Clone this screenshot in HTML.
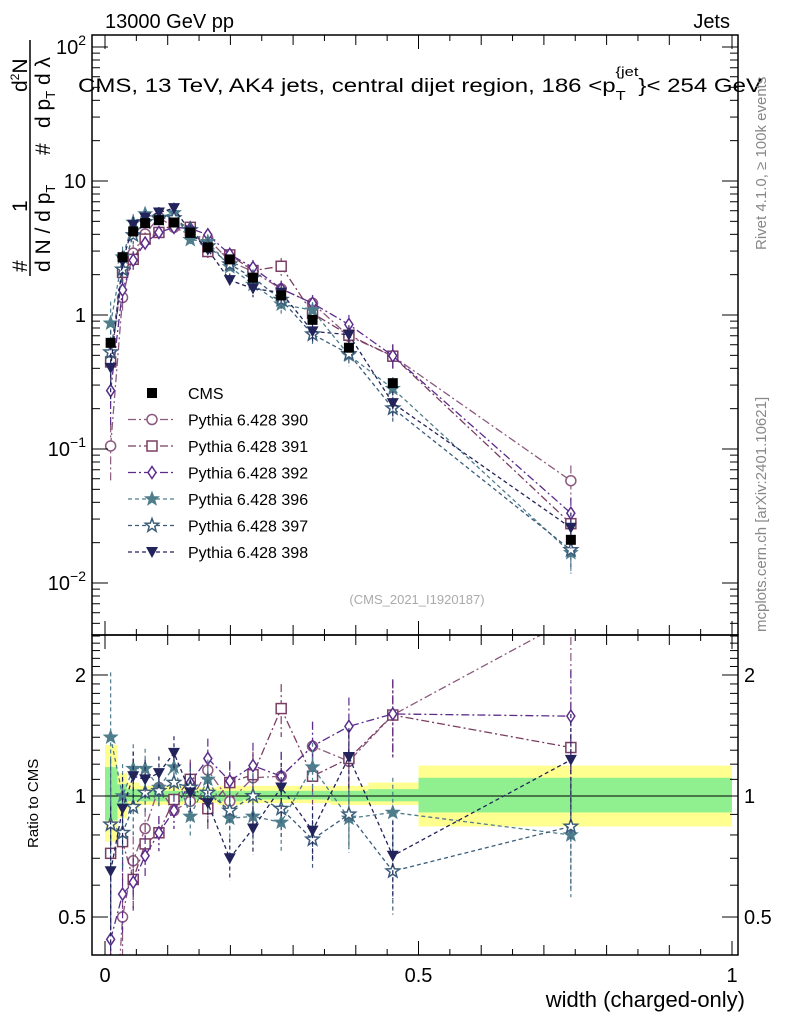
<!DOCTYPE html>
<html><head><meta charset="utf-8"><style>
html,body{margin:0;padding:0;background:#fff;overflow:hidden;width:786px;height:1024px;}
svg{display:block;font-family:"Liberation Sans",sans-serif;}
</style></head><body>
<svg id="c" width="786" height="1024" viewBox="0 0 786 1024" xmlns="http://www.w3.org/2000/svg">
<defs>
<clipPath id="clipMain"><rect x="92" y="35" width="646" height="600"/></clipPath>
<clipPath id="clipRatio"><rect x="92" y="635" width="646" height="320"/></clipPath>
</defs>
<g id="bands" clip-path="url(#clipRatio)"></g>
<g id="ratioMarks" clip-path="url(#clipRatio)"></g>
<g id="mainMarks" clip-path="url(#clipMain)"></g>
<g id="axes"></g>
<text x="105" y="28" font-size="20">13000 GeV pp</text>
<text x="730" y="28" font-size="20" text-anchor="end">Jets</text>
<text x="78" y="92" font-size="19" textLength="684" lengthAdjust="spacingAndGlyphs">CMS, 13 TeV, AK4 jets, central dijet region, 186 &lt;p<tspan dy="8" font-size="13">T</tspan><tspan dy="-24" font-size="13" dx="-8">{jet</tspan><tspan dy="16">}&lt; 254 GeV</tspan></text>
<text transform="translate(766,250) rotate(-90)" font-size="15" fill="#888">Rivet 4.1.0, ≥ 100k events</text>
<text transform="translate(766,632) rotate(-90)" font-size="15" fill="#888">mcplots.cern.ch [arXiv:2401.10621]</text>
<text x="417" y="604" font-size="13" fill="#aaa" text-anchor="middle">(CMS_2021_I1920187)</text>
<g>
<text transform="translate(27,272) rotate(-90)" font-size="21">#</text>
<text transform="translate(27,212) rotate(-90)" font-size="21">1</text>
<text transform="translate(27,92) rotate(-90)" font-size="21">d<tspan font-size="12" dy="-8">2</tspan><tspan dy="8">N</tspan></text>
<line x1="30" y1="276" x2="30" y2="40" stroke="#000" stroke-width="1.5"/>
<text transform="translate(50,272) rotate(-90)" font-size="21">d N / d p<tspan font-size="13" dy="5">T</tspan></text>
<text transform="translate(50,155) rotate(-90)" font-size="21">#</text>
<text transform="translate(50,128) rotate(-90)" font-size="21">d p<tspan font-size="13" dy="5">T</tspan><tspan dy="-5"> d λ</tspan></text>
</g>
<text transform="translate(38,848) rotate(-90)" font-size="15">Ratio to CMS</text>
<text x="745" y="1007" font-size="22" text-anchor="end">width (charged-only)</text>
<g id="legend"></g>
</svg>
<script>
const xs = [0.009,0.028,0.045,0.064,0.086,0.110,0.136,0.164,0.199,0.236,0.281,0.331,0.389,0.459,0.743];
const cms = [0.62,2.7,4.2,4.85,5.1,4.9,4.1,3.2,2.6,1.9,1.4,0.92,0.57,0.31,0.021];
const errFrac = [0.45,0.2,0.15,0.12,0.1,0.1,0.12,0.12,0.12,0.14,0.15,0.15,0.18,0.22,0.3];
const r390 = [0.17,0.50,0.69,0.83,1.05,0.92,0.97,1.16,0.97,1.11,1.12,1.33,1.22,1.59,2.76];
const r391 = [0.72,0.77,0.62,0.76,0.81,0.98,1.10,0.93,1.08,1.13,1.65,1.12,1.24,1.59,1.32];
const r392 = [0.44,0.57,0.61,0.71,0.81,0.92,1.08,1.24,1.09,1.19,1.12,1.33,1.49,1.60,1.58];
const r396 = [1.40,1.00,1.17,1.17,1.05,1.18,0.89,1.10,0.88,0.89,0.86,1.18,0.88,0.91,0.80];
const r397 = [0.85,0.81,0.94,1.02,1.03,1.08,1.05,1.02,0.92,1.00,0.93,0.78,0.90,0.65,0.84];
const r398 = [0.65,0.93,1.12,1.10,1.14,1.28,1.02,0.96,0.70,0.83,1.05,0.82,1.25,0.71,1.23];
const binEdges = [0,0.02,0.035,0.055,0.075,0.095,0.125,0.15,0.18,0.22,0.26,0.3,0.36,0.42,0.5,1.0];
const yelLo = [0.77,0.88,0.93,0.95,0.95,0.95,0.96,0.96,0.95,0.96,0.96,0.96,0.95,0.95,0.84];
const yelHi = [1.34,1.14,1.08,1.06,1.06,1.06,1.05,1.05,1.06,1.06,1.06,1.06,1.06,1.08,1.19];
const grnLo = [0.87,0.94,0.97,0.97,0.97,0.97,0.98,0.98,0.97,0.98,0.98,0.98,0.97,0.97,0.91];
const grnHi = [1.18,1.07,1.04,1.03,1.03,1.03,1.03,1.03,1.03,1.03,1.03,1.03,1.03,1.04,1.11];
const legendLabels = ["CMS","Pythia 6.428 390","Pythia 6.428 391","Pythia 6.428 392","Pythia 6.428 396","Pythia 6.428 397","Pythia 6.428 398"];

const NS="http://www.w3.org/2000/svg";
const X = v => 105 + 627*v;
const Y = v => 315 - 134*Math.log10(v);
const R = v => 796 - 402*Math.log10(v);
function mk(tag, attrs, parent){const e=document.createElementNS(NS,tag);for(const k in attrs)e.setAttribute(k,attrs[k]);parent.appendChild(e);return e;}

const series = [
 {name:"390",r:r390,col:"#8b5a7e",dash:"8,3,2,3",m:"circle"},
 {name:"391",r:r391,col:"#7a3e62",dash:"8,3,2,3",m:"square"},
 {name:"392",r:r392,col:"#5b2c8c",dash:"8,3,2,3",m:"diamond"},
 {name:"396",r:r396,col:"#4e7d8c",dash:"4,3",m:"starf"},
 {name:"397",r:r397,col:"#3b5d7a",dash:"4,3",m:"staro"},
 {name:"398",r:r398,col:"#22235a",dash:"4,3",m:"tri"}
];
function starPts(cx,cy,R1){let p=[];for(let i=0;i<10;i++){const a=-Math.PI/2+i*Math.PI/5;const rr=i%2?R1*0.42:R1;p.push((cx+rr*Math.cos(a)).toFixed(1)+","+(cy+rr*Math.sin(a)).toFixed(1));}return p.join(" ");}
function marker(g,m,cx,cy,col){
 let e;
 if(m==="circle") e=mk("circle",{cx,cy,r:5,fill:"#fff",stroke:col,"stroke-width":1.5},g);
 else if(m==="square") e=mk("rect",{x:cx-5,y:cy-5,width:10,height:10,fill:"#fff",stroke:col,"stroke-width":1.5},g);
 else if(m==="diamond") e=mk("polygon",{points:`${cx},${cy-6} ${cx+4},${cy} ${cx},${cy+6} ${cx-4},${cy}`,fill:"#fff",stroke:col,"stroke-width":1.5},g);
 else if(m==="starf") e=mk("polygon",{points:starPts(cx,cy,7),fill:col,stroke:col},g);
 else if(m==="staro") e=mk("polygon",{points:starPts(cx,cy,7),fill:"#fff",stroke:col,"stroke-width":1.5},g);
 else if(m==="tri") e=mk("polygon",{points:`${cx-6},${cy-5} ${cx+6},${cy-5} ${cx},${cy+6}`,fill:col},g);
 else e=mk("rect",{x:cx-5,y:cy-5,width:10,height:10,fill:"#000"},g);
 return e;
}

const bg=document.getElementById("bands");
for(let i=0;i<yelLo.length;i++){
 const y=mk("rect",{x:X(binEdges[i]),y:R(yelHi[i]),width:X(binEdges[i+1])-X(binEdges[i]),height:R(yelLo[i])-R(yelHi[i]),fill:"#ffff90"},bg);
 
 
 const g=mk("rect",{x:X(binEdges[i]),y:R(grnHi[i]),width:X(binEdges[i+1])-X(binEdges[i]),height:R(grnLo[i])-R(grnHi[i]),fill:"#90f090"},bg);
 
 
}
mk("line",{x1:92,y1:R(1),x2:738,y2:R(1),stroke:"#000","stroke-width":1},bg);

const mg=document.getElementById("mainMarks"), rg=document.getElementById("ratioMarks");
series.forEach(s=>{
 const gm=mk("g",{},mg);  
 const gr=mk("g",{},rg);  
 const vals=xs.map((x,i)=>cms[i]*s.r[i]);
 mk("polyline",{points:xs.map((x,i)=>X(x)+","+Y(vals[i])).join(" "),fill:"none",stroke:s.col,"stroke-width":1.3,"stroke-dasharray":s.dash},gm);
 mk("polyline",{points:xs.map((x,i)=>X(x)+","+R(s.r[i])).join(" "),fill:"none",stroke:s.col,"stroke-width":1.3,"stroke-dasharray":s.dash},gr);
 xs.forEach((x,i)=>{
  const e=errFrac[i];
  mk("line",{x1:X(x),x2:X(x),y1:Y(vals[i]*(1+e)),y2:Y(Math.max(vals[i]*(1-e),1e-4)),stroke:s.col,"stroke-width":1.2,"stroke-dasharray":s.dash},gm);
  mk("line",{x1:X(x),x2:X(x),y1:R(s.r[i]*(1+e)),y2:R(Math.max(s.r[i]*(1-e),0.1)),stroke:s.col,"stroke-width":1.2,"stroke-dasharray":s.dash},gr);
  const p=marker(gm,s.m,X(x),Y(vals[i]),s.col);
  
  
  const q=marker(gr,s.m,X(x),R(s.r[i]),s.col);
  
  
 });
});
const gc=mk("g",{},mg);  
xs.forEach((x,i)=>{
 mk("line",{x1:X(x),x2:X(x),y1:Y(cms[i]*1.05),y2:Y(cms[i]*0.95),stroke:"#000"},gc);
 const p=marker(gc,"cms",X(x),Y(cms[i]),"#000");
 
 
});

const ax=document.getElementById("axes");
mk("rect",{x:92,y:35,width:646,height:600,fill:"none",stroke:"#000","stroke-width":1.5},ax);
mk("rect",{x:92,y:635,width:646,height:320,fill:"none",stroke:"#000","stroke-width":1.5},ax);
for(let k=0;k<=20;k++){const v=k*0.05,px=X(v);const L=(k%10===0)?14:(k%2===0?10:6);
 [[35,1],[635,-1],[635,1],[955,-1]].forEach(([y0,d])=>mk("line",{x1:px,x2:px,y1:y0,y2:y0+d*L,stroke:"#000"},ax));}
for(let d=-3;d<=2;d++){for(let m=1;m<10;m++){const v=m*Math.pow(10,d),py=Y(v);if(py<35||py>635)continue;const L=m===1?16:8;
 mk("line",{x1:92,x2:92+L,y1:py,y2:py,stroke:"#000"},ax);mk("line",{x1:738,x2:738-L,y1:py,y2:py,stroke:"#000"},ax);}}
[0.4,0.5,0.6,0.7,0.8,0.9,1,1.1,1.2,1.3,1.4,1.5,1.6,1.7,1.8,1.9,2,2.1,2.2,2.3,2.4,2.5].forEach(v=>{const py=R(v);if(py<635||py>955)return;const L=(v===0.5||v===1||v===2)?16:8;
 mk("line",{x1:92,x2:92+L,y1:py,y2:py,stroke:"#000"},ax);mk("line",{x1:738,x2:738-L,y1:py,y2:py,stroke:"#000"},ax);});
function txt(x,y,s,anchor,size,name){const t=mk("text",{x,y,"font-size":size,"text-anchor":anchor},ax);t.textContent=s;return t;}
const xTickVals=[0,0.5,1], xTickLabels=["0","0.5","1"];
xTickVals.forEach((v,i)=>txt(X(v),982,xTickLabels[i],"middle",20,"x-tick-label"));
const yTickVals=[100,10,1,0.1,0.01];
yTickVals.forEach(v=>{const py=Y(v)+7;const e=Math.round(Math.log10(v));
 if(e===1)txt(86,py,"10","end",20,"y-tick-label");else if(e===0)txt(86,py,"1","end",20,"y-tick-label");
 else{const t=txt(86,py,"","end",20,"y-tick-label");t.innerHTML='10<tspan dy="-9" font-size="14">'+(e<0?"−"+(-e):e)+'</tspan>';}});
const rTickVals=[2,1,0.5], rTickLabels=["2","1","0.5"];
rTickVals.forEach((v,i)=>{txt(86,R(v)+7,rTickLabels[i],"end",20,"ratio-tick-label");txt(744,R(v)+7,rTickLabels[i],"start",20,"ratio-tick-label-right");});

const lg=document.getElementById("legend");
legendLabels.forEach((l,i)=>{
 const y=393+i*26.5;
 const g=mk("g",{},lg);  
 if(i===0){marker(g,"cms",152,y,"#000");}
 else{const s=series[i-1];mk("line",{x1:128,x2:175,y1:y,y2:y,stroke:s.col,"stroke-width":1.3,"stroke-dasharray":s.dash},g);marker(g,s.m,152,y,s.col);}
 const t=mk("text",{x:188,y:y+6,"font-size":16},g);t.textContent=l;
});
</script>
</body></html>
